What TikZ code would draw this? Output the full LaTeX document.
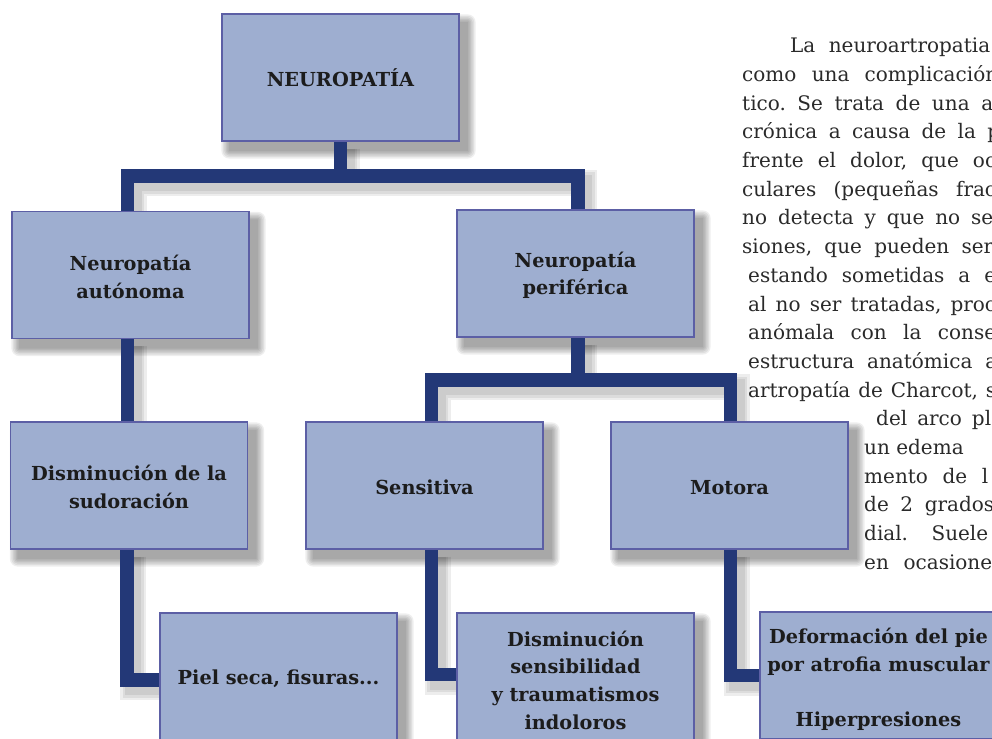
\documentclass[tikz,border=0pt]{standalone}
\usepackage{fontspec}
\setmainfont{DejaVu Serif}
\pgfdeclarelayer{bg}
\pgfsetlayers{bg,main}
\definecolor{boxfill}{HTML}{9EAED0}
\definecolor{boxline}{HTML}{5C5FA5}
\definecolor{conncol}{HTML}{233877}
\definecolor{txtcol}{HTML}{1C1C1C}
\definecolor{paracol}{HTML}{2A2A2A}
\tikzset{
  mybox/.style={draw=boxline, line width=1.3pt, fill=boxfill,
    minimum width=237pt, minimum height=127pt, inner sep=0pt, align=center,
    font=\fontsize{19.3}{27.8}\selectfont\bfseries, text=txtcol},
  conn/.style={draw=conncol, line width=13.5pt},
  connshadow/.style={draw=black, line width=#1, opacity=0.07},
  para/.style={anchor=base west, inner sep=0pt, font=\fontsize{20}{28.7}\selectfont\frenchspacing, text=paracol},
}
\newcommand\connpaths[1]{%
  \draw[#1] (top.south) -- (top.south |- j1);
  \draw[#1] ([xshift=-3pt]auto.north) |- (j1) -| ([xshift=2.5pt]peri.north);
  \draw[#1] ([xshift=-3pt]auto.south) -- ([xshift=-3pt]auto.south |- sud.north);
  \draw[#1] ([xshift=-2pt]sud.south) |- ([yshift=-3.5pt]piel.west);
  \draw[#1] ([xshift=2.5pt]peri.south) -- ([xshift=2.5pt]peri.south |- j2);
  \draw[#1] ([xshift=7pt]sens.north) |- (j2) -| ([xshift=1pt]mot.north);
  \draw[#1] ([xshift=7pt]sens.south) |- ([yshift=2pt]dsens.west);
  \draw[#1] ([xshift=1pt]mot.south) |- (def.west);
}
\newcommand\jl[2]{\hbox to #1pt{#2}}
\begin{document}
\begin{tikzpicture}[x=1pt,y=-1pt]
\useasboundingbox (0,0) rectangle (992,738);
\begin{pgfonlayer}{bg}
  \fill[white] (0,0) rectangle (992,738);
\end{pgfonlayer}

% boxes
\node[mybox] (top)   at (340.5,77.5)  {NEUROPATÍA};
\node[mybox] (auto)  at (130.5,275)   {\rule{0pt}{19pt}Neuropatía\\autónoma};
\node[mybox] (peri)  at (575.5,273.5) {\rule{0pt}{19pt}Neuropatía\\periférica};
\node[mybox] (sud)   at (129,485.5)   {\rule{0pt}{19pt}Disminución de la\\sudoración};
\node[mybox] (sens)  at (424.5,485.5) {\rule{0pt}{19pt}Sensitiva};
\node[mybox] (mot)   at (729.5,485.5) {\rule{0pt}{19pt}Motora};
\node[mybox] (piel)  at (278.5,676.5) {\rule{0pt}{19pt}Piel seca, fisuras...};
\node[mybox] (dsens) at (575.5,676.5) {\rule{0pt}{23pt}Disminución\\sensibilidad\\y traumatismos\\indoloros};
\node[mybox] (def)   at (878.5,675.5) {\rule{0pt}{23pt}Deformación del pie\\por atrofia muscular\\[27.8pt]Hiperpresiones};

\coordinate (j1) at (341,176);
\coordinate (j2) at (578,380);

\begin{pgfonlayer}{bg}
  \begin{scope}[transform canvas={shift={(6pt,-7pt)}}]
    \connpaths{connshadow=26pt}
    \connpaths{connshadow=21pt}
    \connpaths{connshadow=16pt}
  \end{scope}
  \foreach \n in {top,auto,peri,sud,sens,mot,piel,dsens,def}{
    \foreach \e in {8,6.5,5,3.5,2,0.5}{
      \fill[black, opacity=0.065, rounded corners=\e pt]
        ([shift={(8pt-\e pt,-9pt+\e pt)}]\n.north west) rectangle
        ([shift={(8pt+\e pt,-9pt-\e pt)}]\n.south east);
    }
  }
  \connpaths{conn}
\end{pgfonlayer}

% running text
\node[para] (t1)  at (790,52.7)  {\jl{200}{La neuroartropatia}};
\node[para] (t2)  at (742,81.4)  {\jl{256}{como una complicación}};
\node[para] (t3)  at (742,110.1) {\jl{251}{tico. Se trata de una a}};
\node[para] (t4)  at (742,138.8) {\jl{258}{crónica a causa de la p}};
\node[para] (t5)  at (742,167.5) {\jl{254}{frente el dolor, que oc}};
\node[para] (t6)  at (742,196.2) {\jl{254}{culares (pequeñas frac}};
\node[para] (t7)  at (742,224.9) {\jl{251}{no detecta y que no se}};
\node[para] (t8)  at (742,253.6) {\jl{251}{siones, que pueden ser}};
\node[para] (t9)  at (748,282.3) {\jl{248}{estando sometidas a e}};
\node[para] (t10) at (748,311.0) {\jl{248}{al no ser tratadas, proc}};
\node[para] (t11) at (748,339.7) {\jl{248}{anómala con la conse}};
\node[para] (t12) at (748,368.4) {\jl{249}{estructura anatómica a}};
\node[para] (t13) at (748,397.1) {\jl{248}{artropatía de Charcot, s}};
\node[para] (t14) at (876,425.8) {\jl{115}{del arco pl}};
\node[para] (t15) at (864,454.5) {un edema};
\node[para] (t16) at (864,483.2) {\jl{124}{mento de l}};
\node[para] (t17) at (864,511.9) {\jl{130}{de 2 grados}};
\node[para] (t18) at (864,540.6) {\jl{124}{dial. Suele}};
\node[para] (t19) at (864,569.3) {\jl{128}{en ocasione}};
\end{tikzpicture}
\end{document}
